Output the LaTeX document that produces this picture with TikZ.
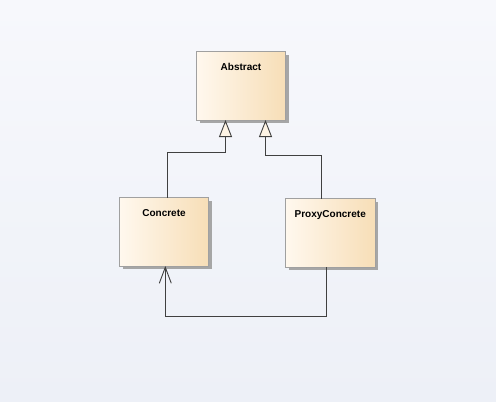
\documentclass[tikz,border=0pt]{standalone}
\usepackage{fontspec}
\setmainfont{Liberation Sans}
\usetikzlibrary{arrows.meta,shadows}
\definecolor{bgtop}{RGB}{247,248,252}
\definecolor{bgbot}{RGB}{237,240,247}
\definecolor{boxl}{RGB}{255,248,238}
\definecolor{boxr}{RGB}{247,222,183}
\definecolor{boxborder}{RGB}{160,160,160}
\definecolor{linec}{RGB}{64,64,64}
\definecolor{trifill}{RGB}{253,243,228}
\tikzset{
  cls/.style={draw=boxborder, line width=0.8pt, left color=boxl, right color=boxr,
    drop shadow={shadow xshift=3pt, shadow yshift=-3pt, fill=black!35, opacity=1},
    inner sep=0pt, outer sep=0pt},
  clstext/.style={font=\bfseries\fontsize{10}{12}\selectfont, anchor=base, inner sep=0pt},
  conn/.style={draw=linec, line width=0.9pt},
  gen/.style={conn, -{Triangle[open, width=13pt, length=17pt, fill=trifill, line width=0.9pt]}},
  assoc/.style={conn, -{Straight Barb[width=12pt, length=16pt, line width=0.9pt]}}
}
\begin{document}
\begin{tikzpicture}[x=1pt, y=-1pt]
\useasboundingbox (0,0) rectangle (496,402);
\shade[top color=bgtop, bottom color=bgbot] (0,0) rectangle (496,402);
\node[cls, minimum width=89pt, minimum height=68.5pt] (abs) at (241,85.75) {};
\node[cls, minimum width=89pt, minimum height=68.5pt] (conc) at (164,231.75) {};
\node[cls, minimum width=89.5pt, minimum height=68.5pt] (proxy) at (330.25,232.75) {};
\node[clstext] (absT) at ([yshift=-18.8pt]abs.north) {Abstract};
\node[clstext] (concT) at ([yshift=-18.8pt]conc.north) {Concrete};
\node[clstext] (proxyT) at ([yshift=-19pt]proxy.north) {ProxyConcrete};
\coordinate (xa1) at (225.5,0);
\coordinate (xa2) at (265.5,0);
\coordinate (xc) at (167,0);
\coordinate (xp) at (321,0);
\coordinate (xcb) at (165.3,0);
\coordinate (xpb) at (326.7,0);
\coordinate (y1) at (0,152);
\coordinate (y2) at (0,155);
\coordinate (y3) at (0,316);
\draw[gen] (conc.north -| xc) -- (y1 -| xc) -- (y1 -| xa1) -- (abs.south -| xa1);
\draw[gen] (proxy.north -| xp) -- (y2 -| xp) -- (y2 -| xa2) -- (abs.south -| xa2);
\draw[assoc] (proxy.south -| xpb) -- (y3 -| xpb) -- (y3 -| xcb) -- (conc.south -| xcb);
\end{tikzpicture}
\end{document}
